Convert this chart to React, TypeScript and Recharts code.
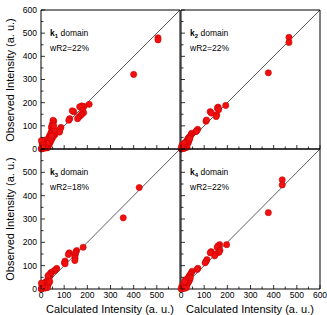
import { ScatterChart, Scatter, XAxis, YAxis, ReferenceLine } from "recharts";

const FONT = "'Liberation Sans', Arial, sans-serif";
const TICKS = [0, 50, 100, 150, 200, 250, 300, 350, 400, 450, 500, 550, 600];
const DIAGONAL = [0, 600];

// [calculated, observed] intensity pairs per domain
const k1Points = [
  [505, 480], [505, 471], [400, 322], [208, 193], [186, 184], [176, 186], [167, 182], [180, 166],
  [184, 157], [176, 150], [170, 144], [163, 138], [158, 131], [141, 161], [135, 165], [124, 131],
  [120, 124], [86, 93], [82, 84], [80, 73], [60, 62], [55, 120], [52, 124], [50, 110], [47, 100],
  [45, 92], [52, 86], [48, 78], [44, 72], [42, 66], [38, 58], [35, 52], [40, 48], [33, 44], [30, 38],
  [27, 33], [24, 28], [22, 24], [20, 19], [17, 15], [14, 11], [12, 8], [9, 5], [6, 3], [3, 1], [1, 0],
  [22, 40], [16, 36], [10, 31], [5, 26], [11, 20], [25, 16], [31, 10], [36, 21], [28, 5], [6, 12],
  [2, 36], [41, 31], [46, 41], [52, 52], [56, 65], [58, 82], [55, 100], [50, 60], [45, 55], [38, 35],
  [30, 25], [20, 8], [15, 3], [8, 18], [4, 8],
];
const k2Points = [
  [466, 482], [466, 460], [377, 329], [193, 188], [160, 181], [157, 176], [163, 170], [154, 148],
  [152, 140], [126, 161], [131, 155], [108, 120], [110, 125], [72, 85], [68, 79], [64, 75], [46, 68],
  [44, 62], [40, 56], [36, 52], [32, 47], [30, 43], [28, 40], [25, 34], [22, 30], [20, 26], [18, 22],
  [16, 18], [14, 14], [12, 10], [10, 7], [8, 4], [5, 2], [3, 1], [1, 0], [24, 18], [28, 22], [32, 28],
  [20, 12], [6, 10], [10, 20], [4, 16], [14, 26], [35, 38], [38, 45], [26, 8], [18, 5], [12, 2], [2, 6],
];
const k3Points = [
  [424, 435], [355, 305], [182, 179], [154, 165], [150, 158], [149, 150], [146, 140], [147, 132],
  [146, 122], [122, 155], [118, 148], [104, 120], [101, 112], [104, 108], [68, 88], [62, 82], [57, 78],
  [46, 72], [42, 68], [40, 62], [38, 56], [35, 50], [33, 45], [30, 40], [28, 36], [25, 30], [23, 26],
  [20, 22], [18, 18], [15, 14], [12, 10], [10, 7], [8, 4], [5, 2], [3, 1], [1, 0], [20, 30], [14, 25],
  [8, 20], [4, 14], [24, 12], [30, 18], [34, 26], [38, 32], [28, 6], [18, 4], [6, 8], [2, 25], [36, 62],
  [30, 56],
];
const k4Points = [
  [437, 468], [437, 446], [377, 327], [197, 190], [167, 190], [160, 185], [156, 178], [168, 166],
  [164, 157], [150, 150], [145, 142], [130, 160], [126, 155], [112, 126], [108, 118], [104, 112],
  [73, 89], [70, 84], [48, 76], [44, 68], [40, 62], [36, 56], [33, 50], [30, 45], [28, 40], [25, 35],
  [22, 30], [20, 25], [18, 21], [15, 17], [13, 13], [11, 9], [9, 6], [6, 3], [3, 1], [1, 0], [22, 15],
  [26, 20], [30, 26], [34, 32], [38, 40], [12, 22], [7, 16], [3, 10], [24, 6], [16, 3], [40, 48],
  [20, 40], [15, 32],
];

const domains = ["1", "2", "3", "4"];
const wR2 = ["22%", "22%", "18%", "22%"];

type Side = "left" | "right" | "top" | "bottom";

const makeTick = (side: Side, labels: number[]) => (props: any) => {
  const { x, y, payload } = props;
  const v = payload.value as number;
  const len = v % 100 === 0 ? 4 : 2.5;
  const show = labels.includes(v);
  let line = null;
  let text = null;
  if (side === "left") {
    line = <line x1={x} y1={y} x2={x + len} y2={y} stroke="#000" strokeWidth={0.8} />;
    if (show) text = <text x={x - 4} y={y} dy="0.35em" textAnchor="end" fontSize={8.5} fontFamily={FONT} fill="#000">{v}</text>;
  } else if (side === "right") {
    line = <line x1={x} y1={y} x2={x - len} y2={y} stroke="#000" strokeWidth={0.8} />;
  } else if (side === "top") {
    line = <line x1={x} y1={y} x2={x} y2={y + len} stroke="#000" strokeWidth={0.8} />;
  } else {
    line = <line x1={x} y1={y} x2={x} y2={y - len} stroke="#000" strokeWidth={0.8} />;
    if (show) text = <text x={x} y={y + 9} textAnchor="middle" fontSize={8.5} fontFamily={FONT} fill="#000">{v}</text>;
  }
  return (
    <g>
      {line}
      {text}
    </g>
  );
};

const Dot = (p: any) => (
  <circle cx={p.cx} cy={p.cy} r={3.1} fill="#f01010" stroke="#cc0000" strokeWidth={0.6} />
);

type PanelProps = {
  points: number[][];
  box: [number, number, number, number];
  yLabels: number[];
  xLabels: number[];
};

const Panel = ({ points, box, yLabels, xLabels }: PanelProps) => {
  const [l, t, r, b] = box;
  const data = points.map(([calc, obs]) => ({ calc, obs }));
  const axisProps = {
    type: "number" as const,
    domain: [0, 600],
    ticks: TICKS,
    tickSize: 0,
    tickMargin: 0,
    interval: 0 as const,
    axisLine: { stroke: "#000", strokeWidth: 1 },
  };
  // each axis takes 1px, so the margins are shrunk by the same amount
  return (
    <div style={{ position: "absolute", left: 0, top: 0 }}>
      <ScatterChart
        width={327}
        height={315}
        margin={{ top: t - 1, left: l - 1, right: 327 - r - 1, bottom: 315 - b - 1 }}
      >
        <XAxis xAxisId="b" dataKey="calc" orientation="bottom" height={1} {...axisProps} tick={makeTick("bottom", xLabels)} />
        <XAxis xAxisId="t" orientation="top" height={1} {...axisProps} tick={makeTick("top", [])} />
        <YAxis yAxisId="l" dataKey="obs" orientation="left" width={1} {...axisProps} tick={makeTick("left", yLabels)} />
        <YAxis yAxisId="r" orientation="right" width={1} {...axisProps} tick={makeTick("right", [])} />
        <ReferenceLine
          xAxisId="b"
          yAxisId="l"
          segment={[{ x: DIAGONAL[0], y: DIAGONAL[0] }, { x: DIAGONAL[1], y: DIAGONAL[1] }]}
          stroke="#333"
          strokeWidth={0.8}
        />
        <Scatter xAxisId="b" yAxisId="l" data={data} shape={Dot} isAnimationActive={false} />
      </ScatterChart>
    </div>
  );
};

const boxes: [number, number, number, number][] = [
  [41, 10, 180, 149],
  [181, 10, 320, 149],
  [41, 149, 180, 289],
  [181, 149, 320, 289],
];

export default function App() {
  const all = [k1Points, k2Points, k3Points, k4Points];
  const labelsY = [[0, 100, 200, 300, 400, 500, 600], [], [0, 100, 200, 300, 400, 500], []];
  const labelsX = [[], [], [0, 100, 200, 300, 400, 500], [0, 100, 200, 300, 400, 500, 600]];
  return (
    <div style={{ position: "absolute", left: 0, top: 0, width: 327, height: 315, background: "#fff", overflow: "hidden" }}>
      {all.map((pts, i) => (
        <Panel key={i} points={pts} box={boxes[i]} yLabels={labelsY[i]} xLabels={labelsX[i]} />
      ))}
      <svg width={327} height={315} style={{ position: "absolute", left: 0, top: 0, pointerEvents: "none" }}>
        {boxes.map(([l, t], i) => (
          <g key={i} fontFamily={FONT} fontSize={8.5} fill="#000">
            <text x={l + 9} y={t + 26}>
              <tspan fontWeight="bold">k</tspan>
              <tspan fontWeight="bold" fontSize={6} dy={2}>{domains[i]}</tspan>
              <tspan dy={-2}> domain</tspan>
            </text>
            <text x={l + 9} y={t + 41}>wR2={wR2[i]}</text>
          </g>
        ))}
        <g fontFamily={FONT} fontSize={11} fill="#000" textAnchor="middle">
          <text transform="translate(13.5,80) rotate(-90)">Observed Intensity (a. u.)</text>
          <text transform="translate(13.5,219) rotate(-90)">Observed Intensity (a. u.)</text>
          <text x={110} y={312.5}>Calculated Intensity (a. u.)</text>
          <text x={250} y={312.5}>Calculated Intensity (a. u.)</text>
        </g>
      </svg>
    </div>
  );
}
